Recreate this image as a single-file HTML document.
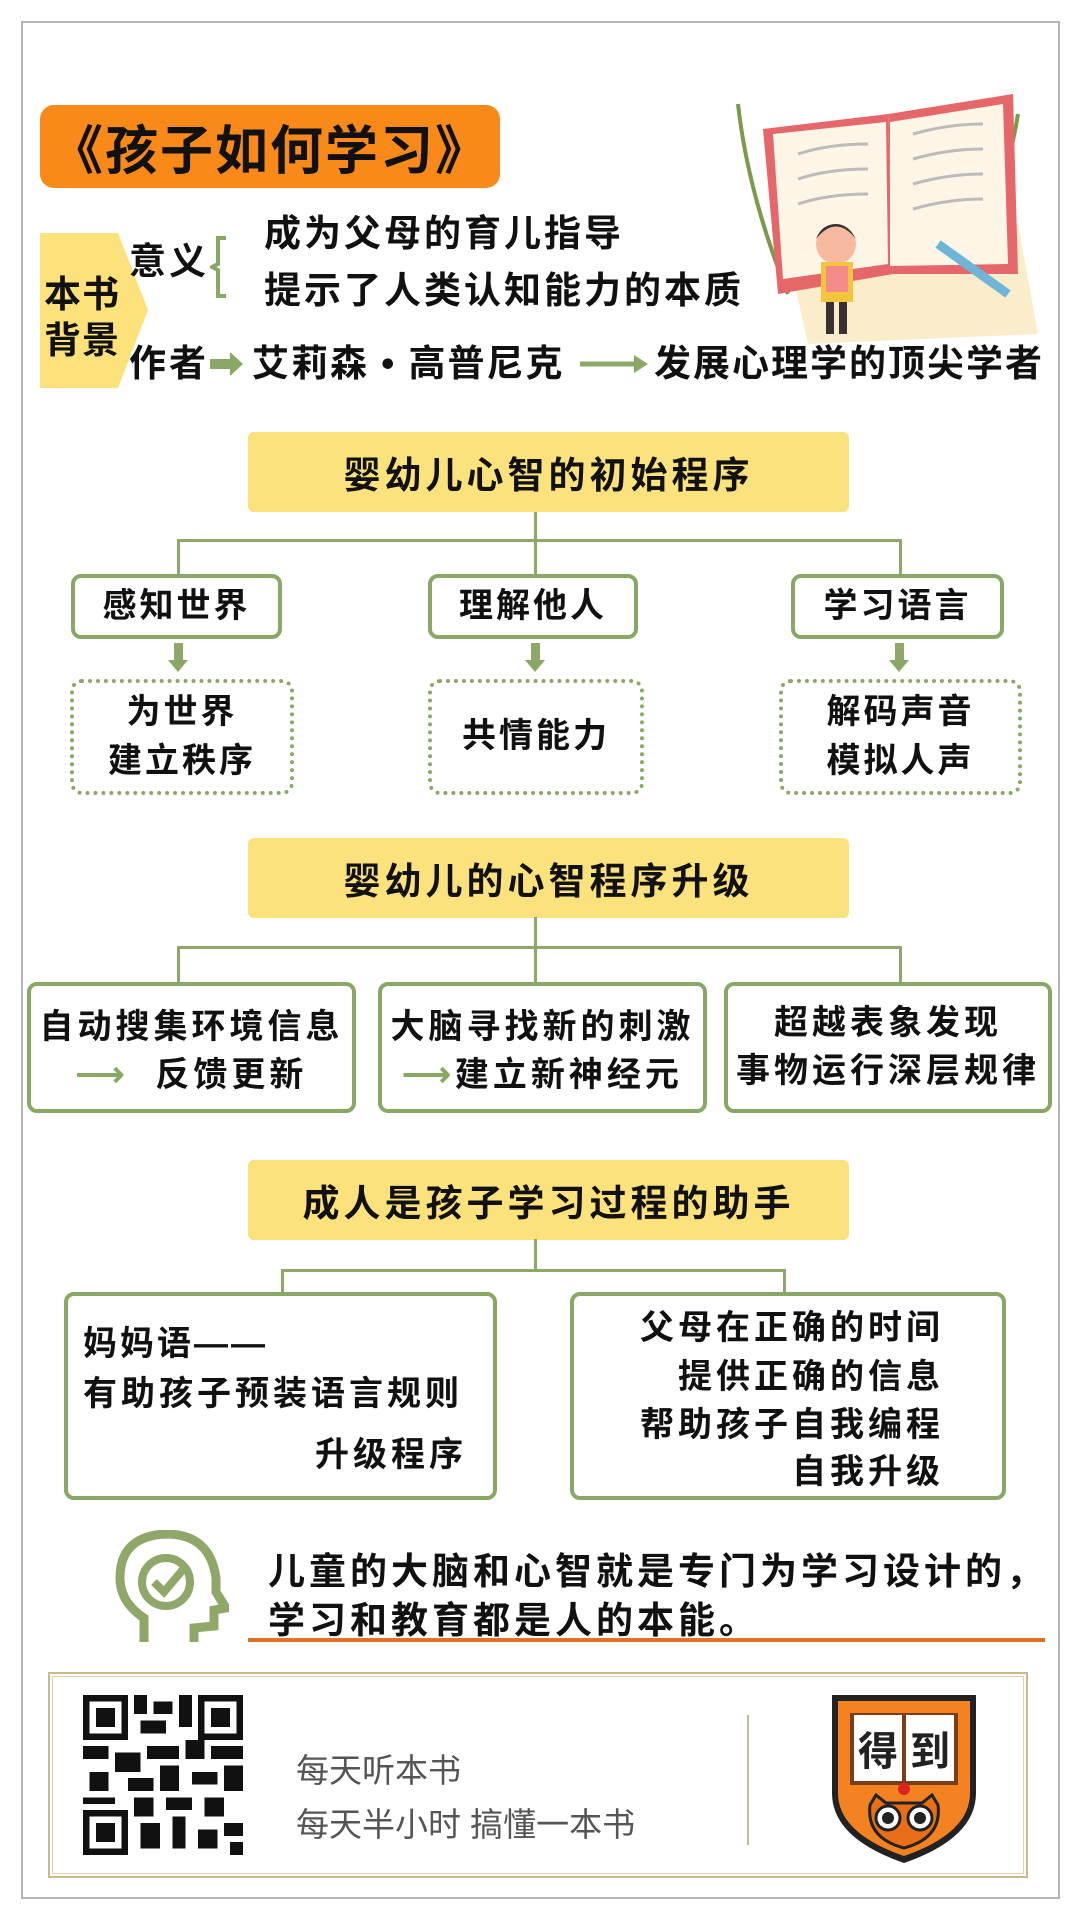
<!DOCTYPE html>
<html><head><meta charset="utf-8"><style>
*{margin:0;padding:0;box-sizing:border-box}
body{width:1080px;height:1920px;background:#fff;position:relative;overflow:hidden;font-family:"Liberation Sans","Noto Sans CJK SC",sans-serif;color:#111}
.a{position:absolute}
.t{position:absolute;white-space:nowrap;font-size:36px;font-weight:700;line-height:1;letter-spacing:3px}
.hdr{position:absolute;left:248px;width:601px;height:80px;background:#fce27c;border-radius:6px;display:flex;align-items:center;justify-content:center;font-size:37px;font-weight:700;letter-spacing:4px}
.ln{position:absolute;background:#8fa86a}
.box{position:absolute;border:4px solid #8aa865;border-radius:10px;display:flex;align-items:center;justify-content:center;font-size:34px;font-weight:700;text-align:center;line-height:1.4;background:#fff;letter-spacing:3px}
.dot{position:absolute;border:4px dotted #8aa865;border-radius:12px;display:flex;align-items:center;justify-content:center;font-size:34px;font-weight:700;text-align:center;line-height:1.45;letter-spacing:3px}
.arr{position:absolute;width:0;height:0;border-left:10px solid transparent;border-right:10px solid transparent;border-top:12px solid #8aa865}
</style></head><body>
<div class="a" style="left:21px;top:21px;width:1039px;height:1878px;border:2px solid #b5b5b5"></div>

<div class="a" style="left:40px;top:105px;width:460px;height:83px;background:#f98a1a;border-radius:14px;display:flex;align-items:center;justify-content:center;font-size:53px;font-weight:700;letter-spacing:2px">《孩子如何学习》</div>

<svg class="a" style="left:718px;top:74px" width="320" height="270" viewBox="0 0 320 270">
<path d="M20 30 Q30 120 70 220" stroke="#7c9a4a" stroke-width="4" fill="none"/>
<path d="M300 40 Q285 130 250 200" stroke="#7c9a4a" stroke-width="4" fill="none"/>
<polygon points="70,180 300,150 320,260 90,270" fill="#fbeccb"/>
<path d="M45 55 L170 40 L175 200 L60 220 Z" fill="#e6676a"/>
<path d="M170 40 L295 20 L300 200 L175 200 Z" fill="#e6676a"/>
<path d="M55 60 L168 48 L170 190 L65 205 Z" fill="#fdf6e6"/>
<path d="M172 48 L285 30 L290 190 L172 192 Z" fill="#fdf6e6"/>
<g stroke="#bbb" stroke-width="3" fill="none"><path d="M80 80 Q110 70 150 70"/><path d="M80 105 Q110 95 150 95"/><path d="M80 130 Q110 120 150 120"/><path d="M195 60 Q230 50 265 50"/><path d="M195 85 Q230 75 265 75"/><path d="M195 110 Q230 100 265 100"/><path d="M195 135 Q230 125 265 125"/></g>
<circle cx="118" cy="170" r="20" fill="#f7b9a0"/><path d="M98 165 Q118 140 138 165 Q130 150 118 150 Q104 150 98 165Z" fill="#333"/>
<rect x="103" y="188" width="32" height="40" fill="#f2c53d"/><rect x="108" y="192" width="22" height="26" fill="#f48a8a"/>
<rect x="108" y="228" width="8" height="32" fill="#3a3030"/><rect x="121" y="228" width="8" height="32" fill="#3a3030"/>
<path d="M220 170 L290 220" stroke="#6fb5d8" stroke-width="9"/>
</svg>

<svg class="a" style="left:40px;top:233px" width="110" height="155"><polygon points="0,0 78,0 108,77 78,155 0,155" fill="#fde17a"/></svg>
<div class="t" style="left:44px;top:272px;font-size:37px;line-height:1.25;letter-spacing:1px">本书<br>背景</div>
<div class="t" style="left:129px;top:243px;font-size:37px">意义</div>
<svg class="a" style="left:210px;top:236px" width="20" height="62"><path d="M16 2 L8 2 L8 28 L2 31 L8 34 L8 60 L16 60" stroke="#8aa865" stroke-width="4" fill="none"/></svg>
<div class="t" style="left:264px;top:215px;font-size:37px;letter-spacing:3px">成为父母的育儿指导</div>
<div class="t" style="left:264px;top:272px;font-size:37px;letter-spacing:3px">提示了人类认知能力的本质</div>
<div class="t" style="left:129px;top:345px;font-size:37px">作者</div>
<svg class="a" style="left:210px;top:352px" width="35" height="24"><polygon points="0,7 20,7 20,0 33,12 20,24 20,17 0,17" fill="#8aa865"/></svg>
<div class="t" style="left:252px;top:345px;font-size:37px;letter-spacing:2px">艾莉森 • 高普尼克</div>
<svg class="a" style="left:580px;top:352px" width="70" height="24"><line x1="0" y1="12" x2="58" y2="12" stroke="#8aa865" stroke-width="5"/><polygon points="54,3 68,12 54,21" fill="#8aa865"/></svg>
<div class="t" style="left:654px;top:345px;font-size:37px;letter-spacing:2px">发展心理学的顶尖学者</div>

<!-- section 1 -->
<div class="hdr" style="top:432px">婴幼儿心智的初始程序</div>
<div class="ln" style="left:534px;top:512px;width:3px;height:29px"></div>
<div class="ln" style="left:178px;top:539px;width:724px;height:3px"></div>
<div class="ln" style="left:177px;top:539px;width:3px;height:36px"></div>
<div class="ln" style="left:534px;top:539px;width:3px;height:36px"></div>
<div class="ln" style="left:899px;top:539px;width:3px;height:36px"></div>
<div class="box" style="left:71px;top:574px;width:211px;height:65px">感知世界</div>
<div class="box" style="left:428px;top:574px;width:210px;height:65px">理解他人</div>
<div class="box" style="left:791px;top:574px;width:213px;height:65px">学习语言</div>
<div class="ln" style="left:174px;top:643px;width:9px;height:18px"></div><div class="arr" style="left:168px;top:660px"></div>
<div class="ln" style="left:531px;top:643px;width:9px;height:18px"></div><div class="arr" style="left:525px;top:660px"></div>
<div class="ln" style="left:895px;top:643px;width:9px;height:18px"></div><div class="arr" style="left:889px;top:660px"></div>
<div class="dot" style="left:70px;top:679px;width:224px;height:116px">为世界<br>建立秩序</div>
<div class="dot" style="left:428px;top:679px;width:216px;height:116px">共情能力</div>
<div class="dot" style="left:779px;top:679px;width:243px;height:116px">解码声音<br>模拟人声</div>

<!-- section 2 -->
<div class="hdr" style="top:838px">婴幼儿的心智程序升级</div>
<div class="ln" style="left:534px;top:917px;width:3px;height:31px"></div>
<div class="ln" style="left:178px;top:946px;width:724px;height:3px"></div>
<div class="ln" style="left:177px;top:946px;width:3px;height:37px"></div>
<div class="ln" style="left:534px;top:946px;width:3px;height:37px"></div>
<div class="ln" style="left:899px;top:946px;width:3px;height:37px"></div>
<div class="box" style="left:27px;top:982px;width:329px;height:131px;display:block;padding-top:18px;letter-spacing:4px">自动搜集环境信息<br><span style="color:#8aa865">⟶</span>&nbsp;&nbsp;反馈更新</div>
<div class="box" style="left:378px;top:982px;width:329px;height:131px;display:block;padding-top:18px;letter-spacing:4px">大脑寻找新的刺激<br><span style="color:#8aa865">⟶</span>建立新神经元</div>
<div class="box" style="left:724px;top:982px;width:328px;height:131px;letter-spacing:4px">超越表象发现<br>事物运行深层规律</div>

<!-- section 3 -->
<div class="hdr" style="top:1160px">成人是孩子学习过程的助手</div>
<div class="ln" style="left:534px;top:1239px;width:3px;height:32px"></div>
<div class="ln" style="left:282px;top:1269px;width:503px;height:3px"></div>
<div class="ln" style="left:281px;top:1269px;width:3px;height:24px"></div>
<div class="ln" style="left:783px;top:1269px;width:3px;height:24px"></div>
<div class="box" style="left:64px;top:1292px;width:433px;height:208px;display:block"></div>
<div class="t" style="left:83px;top:1327px;font-size:34px">妈妈语——</div>
<div class="t" style="left:83px;top:1377px;font-size:34px;letter-spacing:4px">有助孩子预装语言规则</div>
<div class="t" style="left:315px;top:1438px;font-size:34px;letter-spacing:4px">升级程序</div>
<div class="box" style="left:570px;top:1292px;width:436px;height:208px;display:block"></div>
<div class="t" style="right:136px;top:1311px;font-size:34px;letter-spacing:4px">父母在正确的时间</div>
<div class="t" style="right:136px;top:1360px;font-size:34px;letter-spacing:4px">提供正确的信息</div>
<div class="t" style="right:136px;top:1408px;font-size:34px;letter-spacing:4px">帮助孩子自我编程</div>
<div class="t" style="right:136px;top:1455px;font-size:34px;letter-spacing:4px">自我升级</div>

<!-- conclusion -->
<svg class="a" style="left:114px;top:1530px" width="115" height="115" viewBox="0 0 115 115">
<path d="M30 112 L30 88 Q6 72 6 48 Q6 6 52 4 Q96 4 102 48 L102 62 L112 78 L100 80 L100 96 L80 98 L80 112" stroke="#8fa86a" stroke-width="9" fill="none"/>
<circle cx="52" cy="52" r="24" stroke="#8fa86a" stroke-width="8" fill="none"/>
<path d="M40 52 L50 62 L72 36" stroke="#8fa86a" stroke-width="8" fill="none"/>
</svg>
<div class="t" style="left:268px;top:1553px;font-size:37px;letter-spacing:4px">儿童的大脑和心智就是专门为学习设计的，</div>
<div class="t" style="left:268px;top:1602px;font-size:37px;letter-spacing:4px">学习和教育都是人的本能。</div>
<div class="a" style="left:248px;top:1638px;width:797px;height:4px;background:#e0732a"></div>

<!-- footer -->
<div class="a" style="left:48px;top:1672px;width:980px;height:206px;border:2px solid #cdb88a"></div>
<div class="a" style="left:52px;top:1676px;width:972px;height:198px;border:1px solid #ddd0ad"></div>
<svg class="a" style="left:83px;top:1695px" width="160" height="160" viewBox="0 0 25 25" shape-rendering="crispEdges">
<g fill="#111"><rect x="0" y="0" width="7" height="7"/><rect x="18" y="0" width="7" height="7"/><rect x="0" y="18" width="7" height="7"/></g>
<g fill="#fff"><rect x="1" y="1" width="5" height="5"/><rect x="19" y="1" width="5" height="5"/><rect x="1" y="19" width="5" height="5"/></g>
<g fill="#111"><rect x="2" y="2" width="3" height="3"/><rect x="20" y="2" width="3" height="3"/><rect x="2" y="20" width="3" height="3"/>
<rect x="8" y="0" width="2" height="3"/><rect x="11" y="1" width="3" height="2"/><rect x="15" y="0" width="2" height="5"/><rect x="9" y="4" width="4" height="2"/>
<rect x="0" y="8" width="4" height="2"/><rect x="5" y="9" width="4" height="3"/><rect x="10" y="8" width="5" height="2"/><rect x="16" y="7" width="3" height="3"/><rect x="20" y="8" width="5" height="2"/>
<rect x="1" y="12" width="3" height="3"/><rect x="7" y="13" width="4" height="2"/><rect x="12" y="11" width="3" height="4"/><rect x="17" y="12" width="4" height="2"/><rect x="22" y="11" width="3" height="4"/>
<rect x="0" y="16" width="5" height="1"/><rect x="8" y="16" width="3" height="3"/><rect x="13" y="16" width="4" height="2"/><rect x="19" y="16" width="3" height="3"/>
<rect x="9" y="20" width="3" height="4"/><rect x="14" y="19" width="2" height="5"/><rect x="18" y="21" width="3" height="3"/><rect x="22" y="20" width="3" height="2"/><rect x="23" y="23" width="2" height="2"/></g>
</svg>
<div class="a" style="left:296px;top:1744px;font-size:33px;color:#555;white-space:nowrap">每天听本书</div>
<div class="a" style="left:296px;top:1798px;font-size:33px;color:#555;white-space:nowrap">每天半小时 搞懂一本书</div>
<div class="a" style="left:747px;top:1715px;width:2px;height:130px;background:#cdb88a"></div>
<svg class="a" style="left:830px;top:1693px" width="148" height="172" viewBox="0 0 148 172">
<path d="M2 2 L146 2 L146 100 Q146 145 74 170 Q2 145 2 100 Z" fill="#222"/>
<path d="M8 8 L140 8 L140 100 Q140 140 74 163 Q8 140 8 100 Z" fill="#f58220"/>
<rect x="20" y="20" width="108" height="72" fill="#7a3d1a"/>
<rect x="24" y="22" width="48" height="66" fill="#fff"/><rect x="76" y="22" width="48" height="66" fill="#fff"/>
<text x="48" y="72" font-size="40" text-anchor="middle" font-family="Noto Sans CJK SC" font-weight="700" fill="#222">得</text>
<text x="100" y="72" font-size="40" text-anchor="middle" font-family="Noto Sans CJK SC" font-weight="700" fill="#222">到</text>
<circle cx="74" cy="96" r="6" fill="#d22"/>
<path d="M40 112 L46 102 L56 110 L92 110 L102 102 L108 112 Q112 145 74 155 Q36 145 40 112Z" fill="#e86e18" stroke="#222" stroke-width="3"/>
<circle cx="58" cy="125" r="12" fill="#fff" stroke="#222" stroke-width="3"/><circle cx="90" cy="125" r="12" fill="#fff" stroke="#222" stroke-width="3"/>
<circle cx="58" cy="125" r="6" fill="#222"/><circle cx="90" cy="125" r="6" fill="#222"/>
</svg>
</body></html>
